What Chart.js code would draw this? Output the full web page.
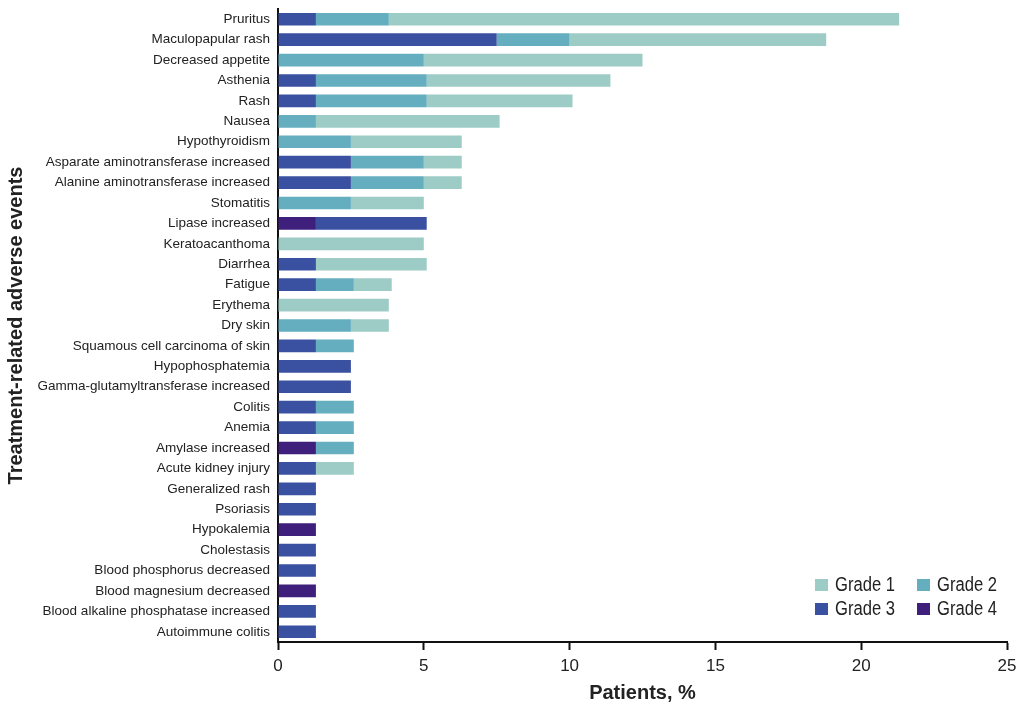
<!DOCTYPE html>
<html>
<head>
<meta charset="utf-8">
<script src="https://cdn.jsdelivr.net/npm/chart.js@4"></script>
<style>
  body { margin: 0; background: #fff; }
  #wrap { width: 1020px; height: 710px; position: relative; }
</style>
</head>
<body>
<div id="wrap"><canvas id="graph1"></canvas></div>
<script>
var categories = ['Pruritus', 'Maculopapular rash', 'Decreased appetite', 'Asthenia', 'Rash', 'Nausea',
  'Hypothyroidism', 'Asparate aminotransferase increased', 'Alanine aminotransferase increased', 'Stomatitis',
  'Lipase increased', 'Keratoacanthoma', 'Diarrhea', 'Fatigue', 'Erythema', 'Dry skin',
  'Squamous cell carcinoma of skin', 'Hypophosphatemia', 'Gamma-glutamyltransferase increased', 'Colitis',
  'Anemia', 'Amylase increased', 'Acute kidney injury', 'Generalized rash', 'Psoriasis', 'Hypokalemia',
  'Cholestasis', 'Blood phosphorus decreased', 'Blood magnesium decreased',
  'Blood alkaline phosphatase increased', 'Autoimmune colitis'];

var grade1 = [17.5, 8.8, 7.5, 6.3, 5.0, 6.3, 3.8, 1.3, 1.3, 2.5, 0, 5.0, 3.8, 1.3, 3.8, 1.3,
  0, 0, 0, 0, 0, 0, 1.3, 0, 0, 0, 0, 0, 0, 0, 0];
var grade2 = [2.5, 2.5, 5.0, 3.8, 3.8, 1.3, 2.5, 2.5, 2.5, 2.5, 0, 0, 0, 1.3, 0, 2.5,
  1.3, 0, 0, 1.3, 1.3, 1.3, 0, 0, 0, 0, 0, 0, 0, 0, 0];
var grade3 = [1.3, 7.5, 0, 1.3, 1.3, 0, 0, 2.5, 2.5, 0, 3.8, 0, 1.3, 1.3, 0, 0,
  1.3, 2.5, 2.5, 1.3, 1.3, 0, 1.3, 1.3, 1.3, 0, 1.3, 1.3, 0, 1.3, 1.3];
var grade4 = [0, 0, 0, 0, 0, 0, 0, 0, 0, 0, 1.3, 0, 0, 0, 0, 0,
  0, 0, 0, 0, 0, 1.3, 0, 0, 0, 1.3, 0, 0, 1.3, 0, 0];

var xTicks = [0, 5, 10, 15, 20, 25];
var gradeNames = ['Grade 1', 'Grade 2', 'Grade 3', 'Grade 4'];
var gradeColors = ['#9dcbc6', '#64aec0', '#3a50a0', '#3e1f7b'];

var sans = "'Liberation Sans', Arial, sans-serif";

// legend sits inside the plot, bottom right, two rows of two
// text is squeezed a bit because the original uses a condensed face
var legendInside = {
  id: 'legendInside',
  afterDraw: function (chart) {
    var ctx = chart.ctx;
    var spots = [[815, 579], [917, 579], [815, 603], [917, 603]];
    for (var i = 0; i < gradeNames.length; i++) {
      ctx.save();
      ctx.fillStyle = gradeColors[i];
      ctx.fillRect(spots[i][0], spots[i][1], 13, 12);
      ctx.translate(spots[i][0] + 20, spots[i][1] + 6);
      ctx.scale(0.83, 1);
      ctx.font = '20px ' + sans;
      ctx.textBaseline = 'middle';
      ctx.textAlign = 'left';
      ctx.fillStyle = '#222';
      ctx.fillText(gradeNames[i], 0, 0);
      ctx.restore();
    }
  }
};

var context = document.getElementById('graph1').getContext('2d');
var chart = new Chart(context, {
  type: 'bar',
  data: {
    labels: categories,
    datasets: [
      { label: gradeNames[3], data: grade4, backgroundColor: gradeColors[3] },
      { label: gradeNames[2], data: grade3, backgroundColor: gradeColors[2] },
      { label: gradeNames[1], data: grade2, backgroundColor: gradeColors[1] },
      { label: gradeNames[0], data: grade1, backgroundColor: gradeColors[0] }
    ]
  },
  options: {
    indexAxis: 'y',
    responsive: true,
    maintainAspectRatio: false,
    animation: false,
    barPercentage: 0.62,
    categoryPercentage: 1,
    layout: { padding: { top: 9, right: 13, left: 0, bottom: 0 } },
    plugins: {
      legend: { display: false },
      tooltip: { enabled: false }
    },
    scales: {
      x: {
        stacked: true,
        min: 0,
        max: 25,
        afterBuildTicks: function (scale) {
          scale.ticks = xTicks.map(function (v) { return { value: v }; });
        },
        afterFit: function (scale) {
          scale.height = 68;
          scale.paddingLeft = 0;
          scale.paddingRight = 0;
        },
        border: { display: true, color: '#111', width: 2 },
        grid: { drawOnChartArea: false, drawTicks: true, tickLength: 8, tickColor: '#111', tickWidth: 2 },
        ticks: { color: '#222', padding: 6, font: { family: sans, size: 17 } },
        title: {
          display: true,
          text: 'Patients, %',
          color: '#222',
          padding: { top: 0, bottom: 5 },
          font: { family: sans, size: 20, weight: 'bold' }
        }
      },
      y: {
        stacked: true,
        afterFit: function (scale) {
          scale.width = 278;
          scale.paddingTop = 0;
          scale.paddingBottom = 0;
        },
        border: { display: true, color: '#111', width: 2 },
        grid: { display: true, drawOnChartArea: false, drawTicks: false },
        ticks: { color: '#222', padding: 8, autoSkip: false, font: { family: sans, size: 13.5 } },
        title: {
          display: true,
          text: 'Treatment-related adverse events',
          color: '#222',
          padding: { top: 4, bottom: 0 },
          font: { family: sans, size: 20, weight: 'bold' }
        }
      }
    }
  },
  plugins: [legendInside]
});
</script>
</body>
</html>
